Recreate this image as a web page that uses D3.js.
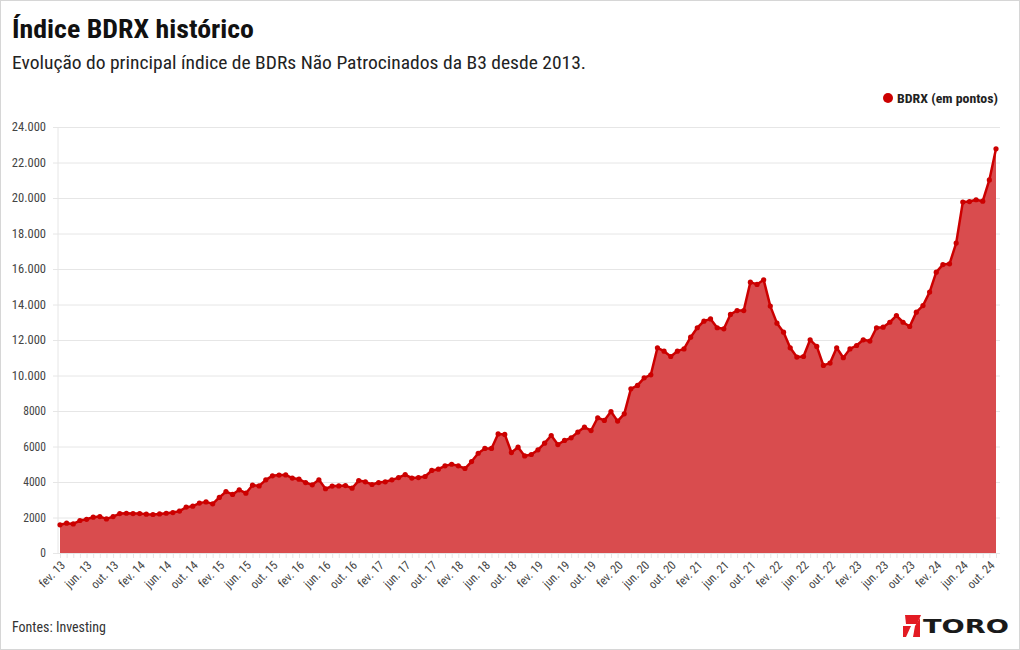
<!DOCTYPE html>
<html>
<head>
<meta charset="utf-8">
<script src="https://cdn.jsdelivr.net/npm/d3@7"></script>
<style>
  html, body { margin: 0; padding: 0; background: #fff; }
  svg { display: block; }
  text { font-family: "Roboto Condensed", "Liberation Sans Narrow", Roboto, sans-serif; }
</style>
</head>
<body>
<svg id="chart" width="1020" height="650"></svg>
<script>
// ---- DATA ----
const monthNames = ["jan.", "fev.", "mar.", "abr.", "mai.", "jun.", "jul.", "ago.", "set.", "out.", "nov.", "dez."];
const startYear = 2013, startMonth = 1; // fev. 2013
const bdrxValues = [
  1590,1680,1640,1830,1900,2020,2050,1920,2050,2220,
  2240,2220,2220,2190,2170,2200,2240,2280,2360,2580,
  2640,2810,2880,2770,3130,3460,3300,3560,3370,3820,
  3780,4120,4350,4390,4400,4220,4160,3970,3840,4120,
  3620,3770,3780,3800,3650,4080,4010,3860,3970,4010,
  4120,4250,4420,4220,4250,4310,4650,4720,4910,5000,
  4910,4760,5150,5620,5890,5890,6710,6680,5660,5960,
  5470,5550,5810,6190,6620,6110,6340,6490,6810,7090,
  6900,7620,7470,7970,7430,7840,9250,9440,9870,10040,
  11560,11370,11070,11370,11500,12160,12690,13060,13190,12690,
  12630,13440,13660,13660,15260,15130,15390,13910,12950,12440,
  11560,11040,11070,12010,11640,10570,10700,11560,11000,11500,
  11690,12010,11940,12690,12720,13000,13380,13000,12760,13570,
  13940,14700,15820,16250,16290,17460,19770,19800,19900,19820,
  21020,22770
];
const categories = bdrxValues.map((_, i) => {
  const m = (startMonth + i) % 12;
  const y = startYear + Math.floor((startMonth + i) / 12);
  return monthNames[m] + " " + String(y % 100).padStart(2, "0");
});
const yTicks = [0, 2000, 4000, 6000, 8000, 10000, 12000, 14000, 16000, 18000, 20000, 22000, 24000];
const yTickLabels = ["0", "2000", "4000", "6000", "8000", "10.000", "12.000", "14.000", "16.000", "18.000", "20.000", "22.000", "24.000"];
const seriesName = "BDRX (em pontos)";
const title = "Índice BDRX histórico";
const subtitle = "Evolução do principal índice de BDRs Não Patrocinados da B3 desde 2013.";
const source = "Fontes: Investing";

// ---- CHART ----
const svg = d3.select("#chart");
const W = 1020, H = 650;
const red = "#cc0000", areaFill = "#d94c4e", grid = "#e6e6e6";

svg.append("rect").attr("x", 0.5).attr("y", 0.5).attr("width", W - 1).attr("height", H - 1)
  .attr("fill", "#fff").attr("stroke", "#d6d6d6");

const x = d3.scalePoint().domain(categories).range([60, 996]);
const y = d3.scaleLinear().domain([0, 24000]).range([553, 127]);

// titles
svg.append("text").attr("x", 12).attr("y", 38).attr("font-size", 26).attr("font-weight", 700)
  .attr("fill", "#111").attr("textLength", 242).attr("lengthAdjust", "spacingAndGlyphs").text(title);
svg.append("text").attr("x", 12).attr("y", 69).attr("font-size", 19).attr("fill", "#222")
  .attr("textLength", 574).attr("lengthAdjust", "spacingAndGlyphs").text(subtitle);

// legend
svg.append("circle").attr("cx", 888).attr("cy", 98).attr("r", 5).attr("fill", red);
svg.append("text").attr("x", 897).attr("y", 103).attr("font-size", 13).attr("font-weight", 700)
  .attr("fill", "#222").attr("textLength", 101).attr("lengthAdjust", "spacingAndGlyphs").text(seriesName);

// y grid + labels
const yAxis = d3.axisLeft(y).tickValues(yTicks).tickSize(-(1000 - 53)).tickFormat((d, i) => yTickLabels[i]);
const gy = svg.append("g").attr("transform", "translate(53,0)").call(yAxis);
gy.select(".domain").remove();
gy.selectAll(".tick line").attr("stroke", grid).attr("stroke-width", 1);
gy.selectAll(".tick text").attr("x", -7).attr("dy", "0.32em").attr("font-size", 12).attr("fill", "#444")
  .style("font-family", "'Roboto Condensed','Liberation Sans Narrow',Roboto,sans-serif")
  .each(function () { const t = d3.select(this); t.attr("textLength", t.text().length * 5.7).attr("lengthAdjust", "spacingAndGlyphs"); });

// vertical faint axis line
svg.append("line").attr("x1", 58).attr("x2", 58).attr("y1", 127).attr("y2", 553).attr("stroke", grid);

// area + line + points
const area = d3.area().x((d, i) => x(categories[i])).y0(y(0)).y1(d => y(d));
const line = d3.line().x((d, i) => x(categories[i])).y(d => y(d));
svg.append("path").datum(bdrxValues).attr("d", area).attr("fill", areaFill);
svg.append("path").datum(bdrxValues).attr("d", line).attr("fill", "none").attr("stroke", red)
  .attr("stroke-width", 2.5).attr("stroke-linejoin", "round");
svg.append("g").selectAll("circle").data(bdrxValues).join("circle")
  .attr("cx", (d, i) => x(categories[i])).attr("cy", d => y(d)).attr("r", 2.6).attr("fill", red);

// x axis: minor ticks every month, labels every 4 months
const xAxis = d3.axisBottom(x).tickSize(5).tickFormat("");
const gx = svg.append("g").attr("transform", "translate(0,553)").call(xAxis);
gx.select(".domain").attr("stroke", grid);
gx.selectAll(".tick line").attr("stroke", grid);
const labeled = categories.filter((c, i) => i % 4 === 0);
svg.append("g").selectAll("text").data(labeled).join("text")
  .attr("transform", d => `translate(${x(d) + 3},${563}) rotate(-45)`)
  .attr("text-anchor", "end").attr("dy", "0.35em").attr("font-size", 12).attr("fill", "#444")
  .text(d => d);

// footer
svg.append("text").attr("x", 12).attr("y", 632).attr("font-size", 14).attr("fill", "#333")
  .attr("textLength", 94).attr("lengthAdjust", "spacingAndGlyphs").text(source);

// logo
const logo = svg.append("g").attr("transform", "translate(903,615)");
logo.append("path").attr("d", "M2,0 L18,0 L14,9 L3,9 Z").attr("fill", "#e31b23");
logo.append("path").attr("d", "M12,11 L17,3 L17,22 L10,22 Z").attr("fill", "#e31b23");
logo.append("path").attr("d", "M0,11 L8,11 L3,22 L0,22 Z").attr("fill", "#e31b23");
logo.append("text").attr("x", 20).attr("y", 18).attr("font-size", 19).attr("font-weight", 900)
  .style("font-family", "'DejaVu Sans', sans-serif").attr("fill", "#1a1a1a")
  .attr("textLength", 86).attr("lengthAdjust", "spacingAndGlyphs").text("TORO");
</script>
</body>
</html>
